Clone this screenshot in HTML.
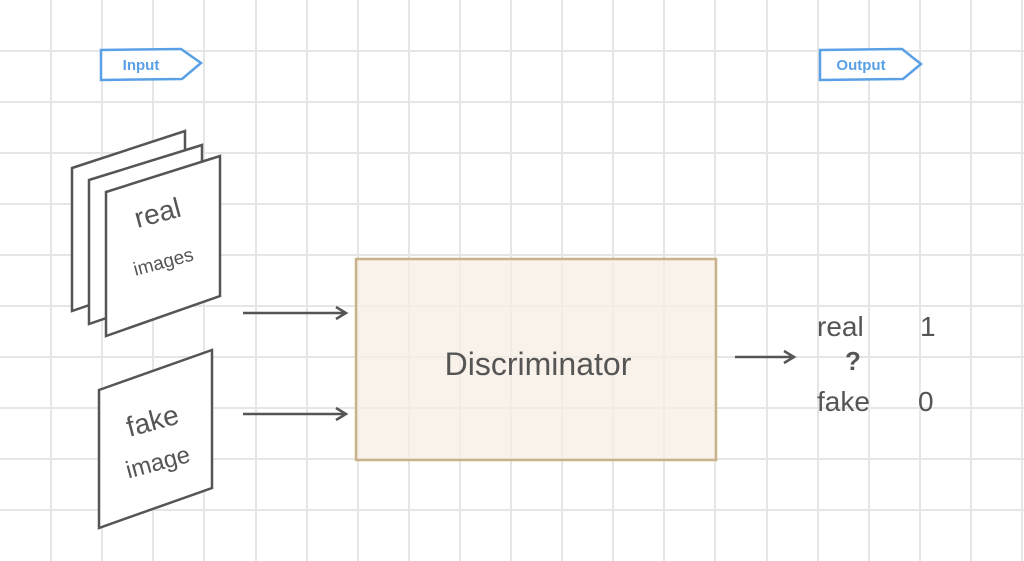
<!DOCTYPE html>
<html><head><meta charset="utf-8"><style>
html,body{margin:0;padding:0;background:#fff;}
svg{display:block;}
text{font-family:"Liberation Sans",sans-serif;fill:#555;}
</style></head><body>
<svg width="1024" height="561" viewBox="0 0 1024 561">
<g id="grid" stroke="#e6e6e6" stroke-width="2"></g>
<g>
<path d="M101 50 L181 49 L201 63 L182 79 L101 80 Z" fill="#fff" stroke="#5aa0e6" stroke-width="2.5"/>
<text x="141" y="70" font-size="15" font-weight="bold" text-anchor="middle" style="fill:#5aa0e6">Input</text>
</g>
<g>
<path d="M820 50 L902 49 L921 64 L903 79 L820 80 Z" fill="#fff" stroke="#5aa0e6" stroke-width="2.5"/>
<text x="861" y="70" font-size="15" font-weight="bold" text-anchor="middle" style="fill:#5aa0e6">Output</text>
</g>
<g fill="#fff" stroke="#555" stroke-width="2.5">
<path d="M72 168 L185 131 L185 272 L72 311 Z"/>
<path d="M89 180 L202 145 L202 285 L89 324 Z"/>
<path d="M106 192 L220 156 L220 296 L106 336 Z"/>
</g>
<text x="160" y="222" font-size="28" text-anchor="middle" transform="rotate(-15 160 222)">real</text>
<text x="165" y="268" font-size="19" text-anchor="middle" transform="rotate(-15 165 268)">images</text>
<g>
<path d="M99 390 L212 350 L212 488 L99 528 Z" fill="#fff" stroke="#555" stroke-width="2.5"/>
<text x="155" y="430" font-size="28" text-anchor="middle" transform="rotate(-15 155 430)">fake</text>
<text x="160" y="470" font-size="24" text-anchor="middle" transform="rotate(-15 160 470)">image</text>
</g>
<g stroke="#555" stroke-width="2.5" fill="none">
<path d="M243 313 L345 313 M336 307 L346 313 L336 319"/>
<path d="M243 414 L345 414 M336 408 L346 414 L336 420"/>
<path d="M735 357 L793 357 M784 351 L794 357 L784 363"/>
</g>
<g>
<rect x="356" y="259" width="360" height="201" fill="#f5ede3" fill-opacity="0.75" stroke="#c9b28a" stroke-width="2.5"/>
<text x="538" y="375" font-size="32" text-anchor="middle">Discriminator</text>
</g>
<g font-size="28">
<text x="817" y="336">real</text>
<text x="920" y="336">1</text>
<text x="845" y="370" font-weight="bold" font-size="26">?</text>
<text x="817" y="411">fake</text>
<text x="918" y="411">0</text>
</g>
</svg>
<script>
const g=document.getElementById('grid');
for(let i=1;i<21;i++){const x=Math.round(i*51.1);const l=document.createElementNS('http://www.w3.org/2000/svg','line');l.setAttribute('x1',x);l.setAttribute('x2',x);l.setAttribute('y1',0);l.setAttribute('y2',561);


g.appendChild(l);}
for(let i=1;i<11;i++){const y=Math.round(i*51);const l=document.createElementNS('http://www.w3.org/2000/svg','line');l.setAttribute('y1',y);l.setAttribute('y2',y);l.setAttribute('x1',0);l.setAttribute('x2',1024);


g.appendChild(l);}
</script>
</body></html>
